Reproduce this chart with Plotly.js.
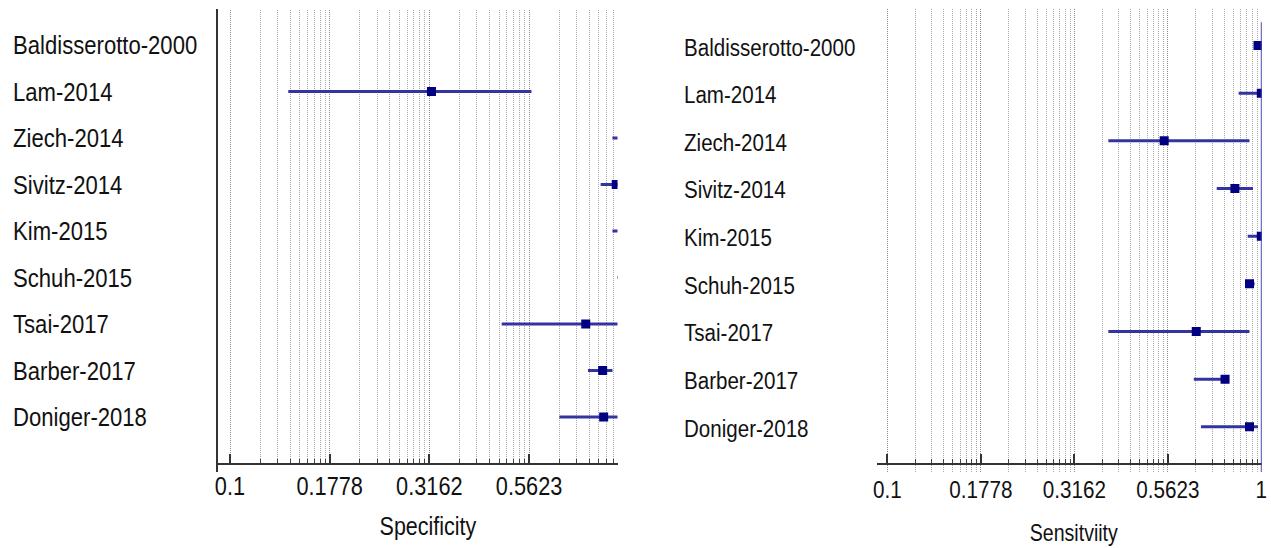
<!DOCTYPE html>
<html>
<head>
<meta charset="utf-8">
<script src="https://cdn.plot.ly/plotly-3.0.1.min.js"></script>
<style>html,body{margin:0;padding:0;background:#fff;}#chart{width:1271px;height:548px;}</style>
</head>
<body>
<div id="chart"></div>
<script>
// ---- data ----
const categories = ['Baldisserotto-2000','Lam-2014','Ziech-2014','Sivitz-2014','Kim-2015','Schuh-2015','Tsai-2017','Barber-2017','Doniger-2018'];
const specValue = [1.00, 0.32, 0.98, 0.93, 0.98, 0.98, 0.78, 0.86, 0.865];
const specLower = [0.95, 0.14, 0.91, 0.85, 0.91, 0.935, 0.48, 0.79, 0.67];
const specUpper = [1.00, 0.57, 1.00, 0.98, 1.00, 1.00, 0.95, 0.91, 0.96];
const sensValue = [0.98, 1.00, 0.55, 0.85, 1.00, 0.93, 0.67, 0.80, 0.93];
const sensLower = [0.975, 0.87, 0.39, 0.76, 0.92, 0.91, 0.39, 0.66, 0.69];
const sensUpper = [1.00, 1.00, 0.93, 0.95, 1.00, 0.96, 0.93, 0.82, 0.98];
const tickVals = [0.1, 0.1778, 0.3162, 0.5623, 1];
const tickText = ['0.1', '0.1778', '0.3162', '0.5623', '1'];
const refValue = [1];

// ---- layout helpers ----
const W = 1271, H = 548;
const px = v => v / W;
const py = v => 1 - v / H;
const FONT = '"Liberation Sans", Arial, sans-serif';
const SX = 0.85; // horizontal condensing of all text
const rows = categories.map((_, i) => i);

// minor ticks: each quarter decade subdivided with a log pattern
const minorVals = [];
for (let k = 0; k < 4; k++) {
  for (let m = 2; m <= 9; m++) minorVals.push(Math.pow(10, -1 + (k + Math.log10(m)) / 4));
}

const MARK = '#000080', BAR = '#3434a0';

function trace(vals, lo, hi, xa, ya) {
  return {
    type: 'scatter', mode: 'markers', x: vals, y: rows, xaxis: xa, yaxis: ya,
    marker: {symbol: 'square', size: 9, color: MARK},
    error_x: {type: 'data', symmetric: false,
      array: hi.map((h, i) => h - vals[i]),
      arrayminus: lo.map((l, i) => vals[i] - l),
      color: BAR, thickness: 3, width: 0},
    hoverinfo: 'skip', showlegend: false
  };
}

function xaxisDef(domain, range, fs, standoff) {
  return {
    type: 'log', domain: domain, range: range,
    tickmode: 'array', tickvals: tickVals, ticktext: tickText,
    ticks: 'inside', ticklen: 9, tickwidth: 2, tickcolor: '#333',
    ticklabelstandoff: standoff,
    showgrid: true, gridcolor: '#8a8a8a', gridwidth: 1, griddash: '1px,1px',
    minor: {tickmode: 'array', tickvals: minorVals, ticks: 'inside', ticklen: 4, tickwidth: 1,
      tickcolor: '#444', showgrid: true, gridcolor: '#aaaaaa', gridwidth: 1, griddash: '1px,1px'},
    showline: true, linecolor: '#333', linewidth: 2,
    zeroline: false, fixedrange: true,
    tickfont: {family: FONT, size: fs, color: '#111'}
  };
}
function yaxisDef(domain, range) {
  return {
    domain: domain, range: range, showgrid: false, zeroline: false,
    showticklabels: false, ticks: '', showline: true, linecolor: '#333', linewidth: 2.5,
    fixedrange: true
  };
}

const data = [
  trace(specValue, specLower, specUpper, 'x', 'y'),
  trace(sensValue, sensLower, sensUpper, 'x2', 'y2')
];

const annotations = [];
categories.forEach((c, i) => {
  annotations.push({text: c, xref: 'paper', x: px(11), xanchor: 'left', yref: 'y', y: i, yanchor: 'middle',
    showarrow: false, font: {family: FONT, size: 26, color: '#111'}});
  annotations.push({text: c, xref: 'paper', x: px(682), xanchor: 'left', yref: 'y2', y: i, yanchor: 'middle', yshift: -1.5,
    showarrow: false, font: {family: FONT, size: 24.2, color: '#111'}});
});
annotations.push({text: 'Specificity', xref: 'paper', x: px(428), xanchor: 'center', yref: 'paper', y: py(526), yanchor: 'middle',
  showarrow: false, font: {family: FONT, size: 25.3, color: '#111'}});
annotations.push({text: 'Sensitviity', xref: 'paper', x: px(1074), xanchor: 'center', yref: 'paper', y: py(533), yanchor: 'middle',
  showarrow: false, font: {family: FONT, size: 23, color: '#111'}});

const layout = {
  width: W, height: H, margin: {l: 0, r: 0, t: 0, b: 0},
  paper_bgcolor: '#fff', plot_bgcolor: '#fff',
  xaxis: xaxisDef([px(218), px(617.5)], [-1.0301, -0.0283], 25.6, 0),
  yaxis: yaxisDef([py(462.7), py(10)], [8.98, -0.753]),
  xaxis2: xaxisDef([px(876.7), px(1262)], [-1.0284, 0.0019], 24.3, 4),
  yaxis2: yaxisDef([py(472.3), py(9.3)], [8.955, -0.76]),
  annotations: annotations,
  shapes: refValue.map(v => ({type: 'line', xref: 'x2', yref: 'y2', x0: v, x1: v, y0: -0.49, y1: 8.955,
    line: {color: '#4a4ab8', width: 1}}))
};

function condense(el, anchorLeft) {
  const bb = el.getBBox();
  const ax = anchorLeft ? bb.x : bb.x + bb.width / 2;
  const prev = el.getAttribute('transform') || '';
  el.setAttribute('transform', prev + ' translate(' + ax + ',0) scale(' + SX + ',1) translate(' + (-ax) + ',0)');
}

Plotly.newPlot('chart', data, layout, {staticPlot: true, displayModeBar: false}).then(gd => {
  gd.querySelectorAll('.annotation').forEach((g, i) => {
    const t = g.querySelector('text.annotation-text');
    if (!t) return;
    const ann = layout.annotations[i];
    condense(t, ann && ann.xanchor === 'left');
  });
  gd.querySelectorAll('.xtick text, .x2tick text').forEach(t => condense(t, false));
});
</script>
</body>
</html>
